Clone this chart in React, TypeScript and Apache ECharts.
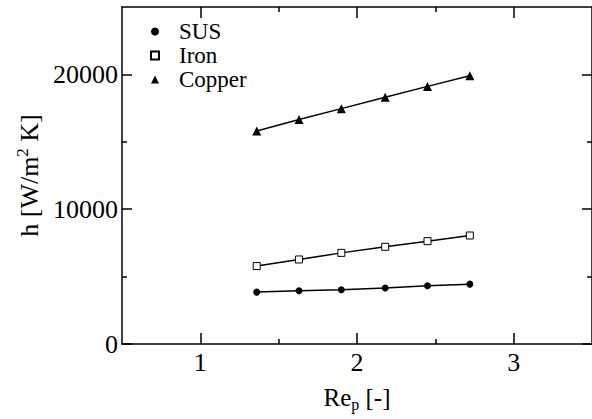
import React, { useEffect, useRef } from "react";
import * as echarts from "echarts";

const xValues = [1.36, 1.63, 1.9, 2.18, 2.45, 2.72];
const susValues = [3850, 3950, 4030, 4150, 4320, 4440];
const ironValues = [5780, 6270, 6760, 7210, 7630, 8050];
const copperValues = [15800, 16650, 17460, 18300, 19110, 19900];
const seriesNames = ["SUS", "Iron", "Copper"];
const xMajorTicks = [1, 2, 3];
const xMinorTicks = [1.5, 2.5];
const yMajorTicks = [0, 10000, 20000];
const yMinorTicks = [5000, 15000];

const FONT = "'Liberation Serif', 'Times New Roman', Times, serif";

function pairs(ys: number[]) {
  return xValues.map((x, i) => [x, ys[i]]);
}

export default function App() {
  const ref = useRef<HTMLDivElement>(null);
  useEffect(() => {
    if (!ref.current) return;
    const chart = echarts.init(ref.current, null, { renderer: "svg" });
    const line = { color: "#000", width: 1.5 };
    const fmt = (v: number) => String(v);
    const mkX = (pos: string, ticks: number[], len: number, showLine: boolean, labels: boolean, extra: any = {}) => ({
      type: "value",
      position: pos,
      min: 0.5,
      max: 3.5,
      axisLine: { show: showLine, onZero: false, lineStyle: line },
      axisTick: { show: true, inside: true, length: len, customValues: ticks, lineStyle: line },
      axisLabel: labels
        ? { show: true, customValues: ticks, formatter: fmt, fontSize: 26, fontFamily: FONT, color: "#000", margin: 5 }
        : { show: false },
      splitLine: { show: false },
      ...extra,
    });
    const mkY = (pos: string, ticks: number[], len: number, showLine: boolean, labels: boolean, extra: any = {}) => ({
      type: "value",
      position: pos,
      min: 0,
      max: 25000,
      axisLine: { show: showLine, onZero: false, lineStyle: line },
      axisTick: { show: true, inside: true, length: len, customValues: ticks, lineStyle: line },
      axisLabel: labels
        ? { show: true, customValues: ticks, formatter: fmt, fontSize: 26, fontFamily: FONT, color: "#000", margin: 4 }
        : { show: false },
      splitLine: { show: false },
      ...extra,
    });
    chart.setOption({
      animation: false,
      backgroundColor: "#fff",
      textStyle: { fontFamily: FONT },
      grid: { left: 122, right: 0, top: 7, bottom: 75, containLabel: false },
      legend: {
        orient: "vertical",
        left: 150,
        top: 20,
        itemWidth: 8,
        itemHeight: 8,
        itemGap: 1,
        padding: 0,
        textStyle: { fontSize: 23, fontFamily: FONT, color: "#000", padding: [0, 0, 0, 15] },
        data: [
          { name: seriesNames[0], icon: "circle" },
          { name: seriesNames[1], icon: "rect" },
          { name: seriesNames[2], icon: "triangle" },
        ],
      },
      xAxis: [
        mkX("bottom", xMajorTicks, 11, true, true, {
          name: "{a|Re}{s|p}{a| [-]}",
          nameLocation: "middle",
          nameGap: 38,
          nameTextStyle: {
            color: "#000",
            fontFamily: FONT,
            rich: {
              a: { fontSize: 25, fontFamily: FONT, color: "#000", lineHeight: 30 },
              s: { fontSize: 16, fontFamily: FONT, color: "#000", verticalAlign: "bottom", lineHeight: 18 },
            },
          },
        }),
        mkX("bottom", xMinorTicks, 5, false, false),
        mkX("top", xMajorTicks, 11, true, false),
        mkX("top", xMinorTicks, 5, false, false),
      ],
      yAxis: [
        mkY("left", yMajorTicks, 10, true, true, {
          name: "{a|h [W/m}{s|2}{a| K]}",
          nameLocation: "middle",
          nameGap: 78,
          nameTextStyle: {
            color: "#000",
            fontFamily: FONT,
            rich: {
              a: { fontSize: 26, fontFamily: FONT, color: "#000", lineHeight: 30 },
              s: { fontSize: 17, fontFamily: FONT, color: "#000", verticalAlign: "top", lineHeight: 17 },
            },
          },
        }),
        mkY("left", yMinorTicks, 5, false, false),
        mkY("right", yMajorTicks, 10, true, false),
        mkY("right", yMinorTicks, 5, false, false),
      ],
      series: [
        {
          name: seriesNames[0],
          type: "line",
          data: pairs(susValues),
          symbol: "circle",
          symbolSize: 7,
          itemStyle: { color: "#000" },
          lineStyle: { color: "#000", width: 1.5 },
        },
        {
          name: seriesNames[1],
          type: "line",
          data: pairs(ironValues),
          symbol: "rect",
          symbolSize: 7,
          itemStyle: { color: "#fff", borderColor: "#000", borderWidth: 1 },
          lineStyle: { color: "#000", width: 1.5 },
        },
        {
          name: seriesNames[2],
          type: "line",
          data: pairs(copperValues),
          symbol: "triangle",
          symbolSize: 9,
          itemStyle: { color: "#000" },
          lineStyle: { color: "#000", width: 1.5 },
        },
      ],
    });
    return () => chart.dispose();
  }, []);
  return <div ref={ref} style={{ width: 592, height: 419, position: "absolute", left: 0, top: 0 }} />;
}
